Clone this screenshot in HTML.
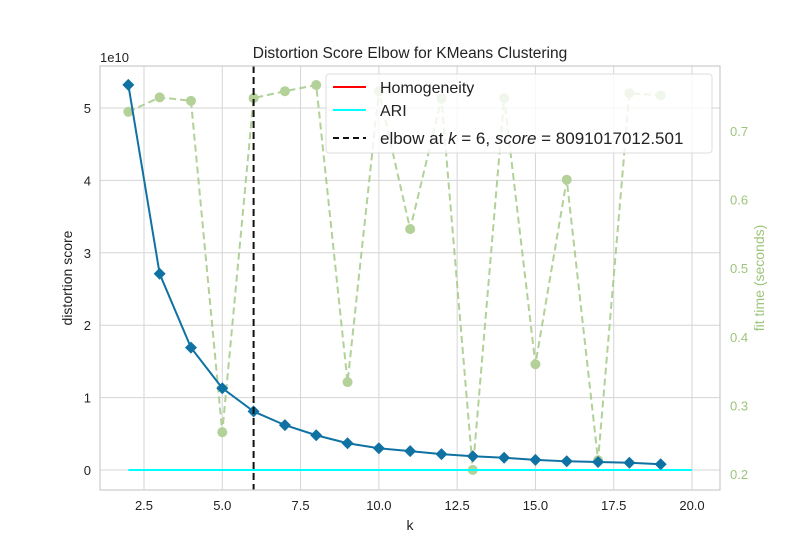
<!DOCTYPE html>
<html><head><meta charset="utf-8"><style>
body{margin:0;background:#fff;}
svg{display:block;font-family:"Liberation Sans","DejaVu Sans",sans-serif;}
</style></head><body>
<svg id="chart" width="800" height="550" xmlns="http://www.w3.org/2000/svg">
<rect x="100" y="66" width="620" height="424" fill="#fff"/>
<g id="grid"></g>
<g id="marks"></g>
<rect x="100" y="66" width="620" height="424" fill="none" stroke="#ccc" stroke-width="1.2"/>
<text x="410" y="58" text-anchor="middle" font-size="15.5" fill="#222">Distortion Score Elbow for KMeans Clustering</text>
<text x="100" y="62" font-size="13" fill="#222">1e10</text>
<text x="410" y="530" text-anchor="middle" font-size="14" fill="#222">k</text>
<text transform="translate(72,278) rotate(-90)" text-anchor="middle" font-size="14" fill="#222">distortion score</text>
<text transform="translate(764,278) rotate(-90)" text-anchor="middle" font-size="14" fill="#9dc47c">fit time (seconds)</text>
<g>
<rect x="326" y="74" width="386" height="79" rx="3" fill="rgba(255,255,255,0.8)" stroke="#ddd"/>
<line x1="333" y1="87" x2="366" y2="87" stroke="#ff0000" stroke-width="2"/>
<text x="380" y="93" font-size="16" fill="#222">Homogeneity</text>
<line x1="333" y1="110" x2="366" y2="110" stroke="#00ffff" stroke-width="2"/>
<text x="380" y="116" font-size="16" fill="#222">ARI</text>
<line x1="333" y1="138" x2="366" y2="138" stroke="#111" stroke-width="2" stroke-dasharray="6,4"/>
<text x="380" y="144" font-size="17" fill="#222">elbow at <tspan font-style="italic">k</tspan> = 6, <tspan font-style="italic">score</tspan> = 8091017012.501</text>
</g>
</svg>
<script>
const ks=[2,3,4,5,6,7,8,9,10,11,12,13,14,15,16,17,18,19];
const distortion=[5.32,2.71,1.69,1.13,0.809,0.62,0.48,0.37,0.30,0.26,0.22,0.19,0.17,0.14,0.12,0.11,0.10,0.08];
const fitTimes=[0.728,0.749,0.744,0.261,0.748,0.758,0.767,0.334,0.758,0.557,0.747,0.206,0.748,0.360,0.629,0.220,0.755,0.752];
const xTicks=[2.5,5.0,7.5,10.0,12.5,15.0,17.5,20.0];
const yTicks=[0,1,2,3,4,5];
const y2Ticks=[0.2,0.3,0.4,0.5,0.6,0.7];
const elbowK=6;
const X=v=>144+(v-2.5)*(692-144)/17.5;
const Y=v=>470-v*72.4;
const Y2=v=>474-(v-0.2)*686;
const NS="http://www.w3.org/2000/svg";
function mk(parent,tag,attrs){const e=document.createElementNS(NS,tag);for(const k in attrs)e.setAttribute(k,attrs[k]);parent.appendChild(e);return e;}
const grid=document.getElementById('grid'),marks=document.getElementById('marks');
xTicks.forEach(t=>{
  const l=mk(grid,'line',{x1:X(t),x2:X(t),y1:66,y2:490,stroke:'#d5d5d5'});
  
  
  const tx=mk(grid,'text',{x:X(t),y:510,'text-anchor':'middle','font-size':13,fill:'#222'});
  tx.textContent=t.toFixed(1);
  
  
});
yTicks.forEach(t=>{
  const l=mk(grid,'line',{x1:100,x2:720,y1:Y(t),y2:Y(t),stroke:'#d5d5d5'});
  
  
  const tx=mk(grid,'text',{x:91,y:Y(t)+5,'text-anchor':'end','font-size':13,fill:'#222'});
  tx.textContent=t;
  
  
});
y2Ticks.forEach(t=>{
  const tx=mk(grid,'text',{x:730,y:Y2(t)+5,'font-size':13,fill:'#9dc47c'});
  tx.textContent=t.toFixed(1);
  
  
});
const fl=mk(marks,'polyline',{points:ks.map((k,i)=>X(k)+','+Y2(fitTimes[i])).join(' '),fill:'none',stroke:'#a9cc8e',opacity:0.9,'stroke-width':2,'stroke-dasharray':'7,4'});


ks.forEach((k,i)=>{
  const c=mk(marks,'circle',{cx:X(k),cy:Y2(fitTimes[i]),r:5,fill:'#b3d199'});
  
  
});
const ari=mk(marks,'line',{x1:X(2),x2:X(20),y1:Y(0),y2:Y(0),stroke:'#00ffff','stroke-width':2});


const dl=mk(marks,'polyline',{points:ks.map((k,i)=>X(k)+','+Y(distortion[i])).join(' '),fill:'none',stroke:'#0f72a3','stroke-width':2});


ks.forEach((k,i)=>{
  const x=X(k),y=Y(distortion[i]);
  const p=mk(marks,'polygon',{points:`${x},${y-6} ${x+6},${y} ${x},${y+6} ${x-6},${y}`,fill:'#0f72a3'});
  
  
});
const el=mk(marks,'line',{x1:X(elbowK),x2:X(elbowK),y1:66,y2:490,stroke:'#111','stroke-width':2,'stroke-dasharray':'7,4'});


</script>
</body></html>
